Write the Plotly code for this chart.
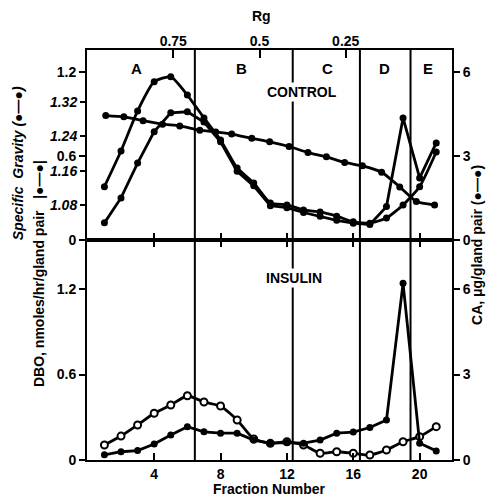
import plotly.graph_objects as go

# ---------------- data ----------------
fractions = list(range(1, 22))

# CONTROL panel
dbo_control = [0.38, 0.634, 0.92, 1.128, 1.164, 1.033, 0.87, 0.713, 0.513, 0.406, 0.264,
               0.25, 0.214, 0.20, 0.17, 0.13, 0.12, 0.157, 0.25, 0.38, 0.627]
ca_control = [0.61, 1.5, 2.74, 3.86, 4.53, 4.57, 4.2, 3.5, 2.45, 1.93, 1.22,
              1.15, 0.98, 0.85, 0.70, 0.60, 0.55, 1.19, 4.35, 2.21, 3.46]
sg_fraction = [1.08, 2.17, 3.33, 4.5, 5.54, 6.75, 7.71, 8.67, 9.88, 10.96, 12.13,
               13.27, 14.38, 15.48, 16.55, 17.71, 18.8, 19.8, 20.9]
sg_control = [1.288, 1.285, 1.276, 1.268, 1.264, 1.254, 1.25, 1.245, 1.235, 1.227, 1.216,
              1.202, 1.192, 1.179, 1.171, 1.156, 1.122, 1.088, 1.08]

# INSULIN panel
dbo_insulin = [0.105, 0.168, 0.246, 0.328, 0.386, 0.451, 0.407, 0.379, 0.281, 0.147, 0.117,
               0.128, 0.105, 0.047, 0.058, 0.047, 0.035, 0.070, 0.128, 0.164, 0.234]
ca_insulin = [0.18, 0.29, 0.33, 0.56, 0.88, 1.17, 0.99, 0.94, 0.94, 0.70, 0.59,
              0.61, 0.59, 0.70, 0.94, 0.98, 1.14, 1.40, 6.2, 0.59, 0.32]

region_bounds = [6.45, 12.35, 16.4, 19.45]
region_labels = ["A", "B", "C", "D", "E"]
region_label_x = [2.95, 9.28, 14.46, 17.9, 20.5]

x_ticks = [4, 8, 12, 16, 20]
rg_ticks = [0.75, 0.5, 0.25]
rg_ticktext = ["0.75", "0.5", "0.25"]

# ---------------- styling ----------------
FONT = "Liberation Sans, Arial, sans-serif"
BLK = "black"
bold14 = dict(family=FONT, size=14, color=BLK, weight="bold")

fig = go.Figure()

def add_curve(x, y, xa, ya, shape="spline", open_marker=False):
    fig.add_trace(go.Scatter(
        x=x, y=y, xaxis=xa, yaxis=ya, mode="lines+markers",
        line=dict(color=BLK, width=2.8, shape=shape, smoothing=0.5),
        marker=dict(symbol="circle", size=7,
                    color="white" if open_marker else BLK,
                    line=dict(color=BLK, width=2 if open_marker else 0)),
        showlegend=False, hoverinfo="skip"))

# top (control)
add_curve(sg_fraction, sg_control, "x", "y3")
add_curve(fractions, dbo_control, "x", "y")
add_curve(fractions, ca_control, "x", "y4", shape="linear")
# bottom (insulin)
add_curve(fractions, dbo_insulin, "x2", "y2", open_marker=True)
add_curve(fractions, ca_insulin, "x2", "y5", shape="linear")

# invisible carrier so the top Rg axis gets drawn
fig.add_trace(go.Scatter(x=rg_ticks, y=[None] * len(rg_ticks), xaxis="x3", yaxis="y",
                         mode="lines", showlegend=False, hoverinfo="skip"))

split = 0.5366
xr = [-0.05, 21.95]

axis_common = dict(showgrid=False, zeroline=False, linecolor=BLK, linewidth=2,
                   tickcolor=BLK, tickwidth=2, tickfont=bold14)

fig.update_layout(
    width=488, height=497,
    margin=dict(l=87, r=36, t=50, b=37),
    paper_bgcolor="white", plot_bgcolor="white",
    xaxis=dict(domain=[0, 1], anchor="y", range=xr, tickvals=x_ticks,
               showticklabels=False, ticks="inside", ticklen=7,
               showline=True, mirror=True, **axis_common),
    xaxis2=dict(domain=[0, 1], anchor="y2", range=xr, tickvals=x_ticks,
                ticks="inside", ticklen=7, showline=True, mirror="ticks",
                **axis_common),
    xaxis3=dict(overlaying="x", anchor="y", side="top", range=[1.0, -0.058],
                tickvals=rg_ticks, ticktext=rg_ticktext, ticks="inside",
                ticklen=8, showline=False, **axis_common),
    yaxis=dict(domain=[split, 1], anchor="x", range=[0, 1.354],
               tickvals=[0, 0.6, 1.2], ticktext=["0", "0.6", "1.2"],
               ticks="outside", ticklen=6, showline=True, mirror=True,
               **axis_common),
    yaxis3=dict(overlaying="y", anchor="x", side="left", range=[0.9986, 1.4405],
                tickvals=[1.08, 1.16, 1.24, 1.32],
                ticktext=["1.08", "1.16", "1.24", "1.32"],
                ticks="outside", ticklen=6, showline=False,
                showgrid=False, zeroline=False, tickcolor=BLK, tickwidth=2,
                tickfont=dict(family=FONT, size=14, color=BLK, weight="bold", style="italic")),
    yaxis4=dict(overlaying="y", anchor="x", side="right", range=[0, 6.77],
                tickvals=[0, 3, 6], ticks="outside", ticklen=6, showline=True,
                **axis_common),
    yaxis2=dict(domain=[0, split], anchor="x2", range=[0, 1.544],
                tickvals=[0, 0.6, 1.2], ticktext=["0", "0.6", "1.2"],
                ticks="outside", ticklen=6, showline=True, mirror=True,
                **axis_common),
    yaxis5=dict(overlaying="y2", anchor="x2", side="right", range=[0, 7.72],
                tickvals=[0, 3, 6], ticks="outside", ticklen=6, showline=True,
                **axis_common),
)

# region boundary lines
for b in region_bounds:
    fig.add_shape(type="line", xref="x", yref="paper", x0=b, x1=b, y0=0, y1=1,
                  line=dict(color=BLK, width=2))

annos = []
for lab, lx in zip(region_labels, region_label_x):
    annos.append(dict(x=lx, y=0.956, xref="x", yref="paper", text=lab,
                      xanchor="center", yanchor="middle", showarrow=False,
                      font=dict(family=FONT, size=15, color=BLK, weight="bold")))
annos += [
    dict(x=12.9, y=0.898, xref="x", yref="paper", text="CONTROL", showarrow=False,
         xanchor="center", yanchor="middle", bgcolor="white",
         font=dict(family=FONT, size=14, color=BLK, weight="bold")),
    dict(x=12.4, y=0.444, xref="x", yref="paper", text="INSULIN", showarrow=False,
         xanchor="center", yanchor="middle", bgcolor="white",
         font=dict(family=FONT, size=14, color=BLK, weight="bold")),
    dict(x=10.48, y=1.083, xref="x", yref="paper", text="Rg", showarrow=False,
         xanchor="center", yanchor="middle", font=bold14),
    dict(x=0.5, y=-0.07, xref="paper", yref="paper", text="Fraction Number",
         xanchor="center", yanchor="middle", showarrow=False, font=bold14),
    dict(x=-0.189, y=0.724, xref="paper", yref="paper", textangle=-90,
         xanchor="center", yanchor="middle",
         text="Specific  Gravity (●—●)", showarrow=False,
         font=dict(family=FONT, size=14, color=BLK, weight="bold", style="italic")),
    dict(x=-0.131, y=0.454, xref="paper", yref="paper", textangle=-90,
         xanchor="center", yanchor="middle",
         text="DBO, nmoles/hr/gland pair   |●—●|", showarrow=False, font=bold14),
    dict(x=1.068, y=0.524, xref="paper", yref="paper", textangle=-90,
         xanchor="center", yanchor="middle",
         text="CA, μg/gland pair (●—●)", showarrow=False, font=bold14),
]
fig.update_layout(annotations=annos)

fig.write_html("out.html")
